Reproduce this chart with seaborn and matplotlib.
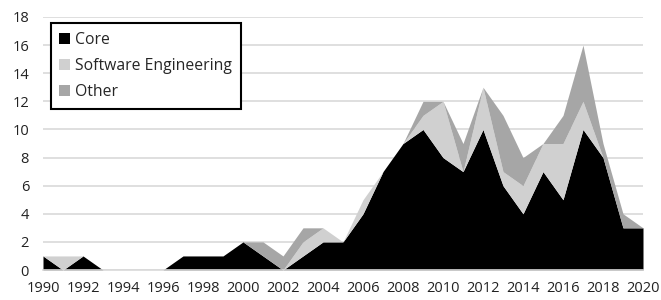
import numpy as np
import matplotlib
matplotlib.use("Agg")
import matplotlib.pyplot as plt
import seaborn as sns

years = list(range(1990, 2021))
core = [1, 0, 1, 0, 0, 0, 0, 1, 1, 1, 2, 1, 0, 1, 2, 2, 4, 7, 9, 10,
        8, 7, 10, 6, 4, 7, 5, 10, 8, 3, 3]
software_eng = [0, 1, 0, 0, 0, 0, 0, 0, 0, 0, 0, 0, 0, 1, 1, 0, 1, 0, 0, 1,
                4, 0, 3, 1, 2, 2, 4, 2, 0, 0, 0]
other = [0, 0, 0, 0, 0, 0, 0, 0, 0, 0, 0, 1, 1, 1, 0, 0, 0, 0, 0, 1,
         0, 2, 0, 4, 2, 0, 2, 4, 1, 1, 0]
labels = ["Core", "Software Engineering", "Other"]
colors = ["#000000", "#d0d0d0", "#a6a6a6"]

sns.set_style("white")
plt.rcParams["font.family"] = ["Open Sans", "DejaVu Sans"]

fig = plt.figure(figsize=(6.61, 3.0), dpi=100)
ax = fig.add_axes([43 / 661, 30 / 300, 600 / 661, 253 / 300])

ax.stackplot(years, core, software_eng, other, labels=labels,
             colors=colors, linewidth=0)

ax.set_xlim(1990, 2020)
ax.set_ylim(0, 18)
ax.set_xticks(range(1990, 2021, 2))
ax.set_yticks(range(0, 19, 2))
ax.yaxis.grid(True, color="#d9d9d9", linewidth=1.2)
ax.set_axisbelow(True)
for s in ["left", "right", "top"]:
    ax.spines[s].set_visible(False)
ax.spines["bottom"].set_color("#d9d9d9")
ax.spines["bottom"].set_linewidth(1.2)
ax.tick_params(axis="both", length=0, labelsize=10.5, colors="#222222")
ax.tick_params(axis="x", pad=8)
ax.tick_params(axis="y", pad=10)

leg = ax.legend(loc="upper left", bbox_to_anchor=(0.013, 0.976),
                borderaxespad=0, fontsize=11.3, frameon=True, fancybox=False,
                handlelength=0.7, handleheight=0.7, handletextpad=0.3,
                labelspacing=0.65, borderpad=0.55)
leg.get_frame().set_edgecolor("black")
leg.get_frame().set_linewidth(1.5)
leg.get_frame().set_alpha(1)

fig.savefig("out.png", dpi=100)
